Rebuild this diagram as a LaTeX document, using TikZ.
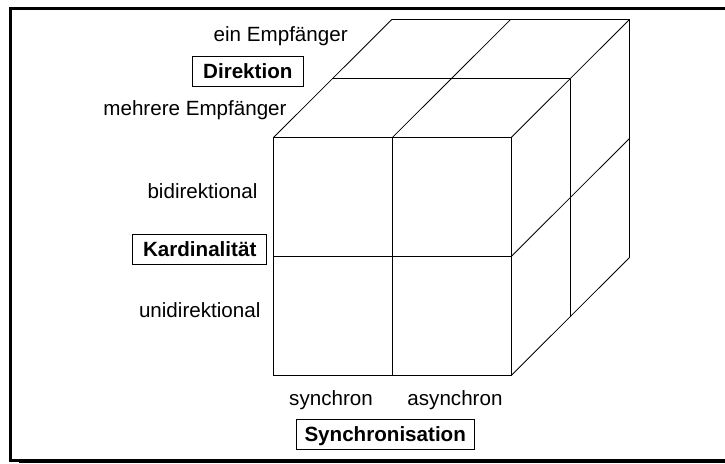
\documentclass[tikz,border=0pt]{standalone}
\usepackage{fontspec}
\setmainfont{Liberation Sans}
\begin{document}
\begin{tikzpicture}[x=1pt,y=-1pt,
  every node/.style={font=\fontsize{20.6}{24}\selectfont},
  lbl/.style={anchor=base,inner sep=0pt},
  axisbox/.style={draw,line width=0.8pt,inner xsep=0pt,inner ysep=0pt,
    text height=22.2pt,text depth=7.3pt,font=\fontsize{20.6}{24}\selectfont\bfseries},
  edge/.style={line width=0.8pt}]
\useasboundingbox (0,0) rectangle (725,463);

% frame with a shadow along the bottom
\draw[line width=2.5pt] (725,8.3) -- (10.3,8.3) -- (10.3,460.3) -- (19,460.3);
\fill (19,458.5) rectangle (725,463);

% the cube: x to the right, y downwards, z into the depth
\begin{scope}[shift={(273.3,137.7)},x={(118.85pt,0pt)},y={(0pt,-119pt)},z={(59.35pt,59.2pt)}]
  % front face
  \draw[edge] (0,0,0) -- (2,0,0) -- (2,2,0) -- (0,2,0) -- cycle;
  \draw[edge] (1,0,0) -- (1,2,0);
  \draw[edge] (0,1,0) -- (2,1,0);
  % top face
  \draw[edge] (0,0,1) -- (2,0,1);
  \draw[edge] (0,0,2) -- (2,0,2);
  \foreach \i in {0,1,2} \draw[edge] (\i,0,0) -- (\i,0,2);
  % right face
  \draw[edge] (2,0,1) -- (2,2,1);
  \draw[edge] (2,0,2) -- (2,2,2);
  \foreach \j in {1,2} \draw[edge] (2,\j,0) -- (2,\j,2);
\end{scope}

% labels of the three axes
\node[lbl] (ein) at (280.7,41.7) {ein Empfänger};
\node[axisbox,minimum width=111pt] (dir) at (247.8,71.3) {Direktion};
\node[lbl] (mehr) at (195,115) {mehrere Empfänger};

\node[lbl] (bi) at (202.5,198.3) {bidirektional};
\node[axisbox,minimum width=134pt] (kard) at (199.7,249.2) {Kardinalität};
\node[lbl] (uni) at (199.7,317.3) {unidirektional};

\node[lbl] (syn) at (331,405.7) {synchron};
\node[lbl] (asyn) at (455,405.7) {asynchron};
\node[axisbox,minimum width=178pt] (sync) at (385.2,434.2) {Synchronisation};
\end{tikzpicture}
\end{document}
